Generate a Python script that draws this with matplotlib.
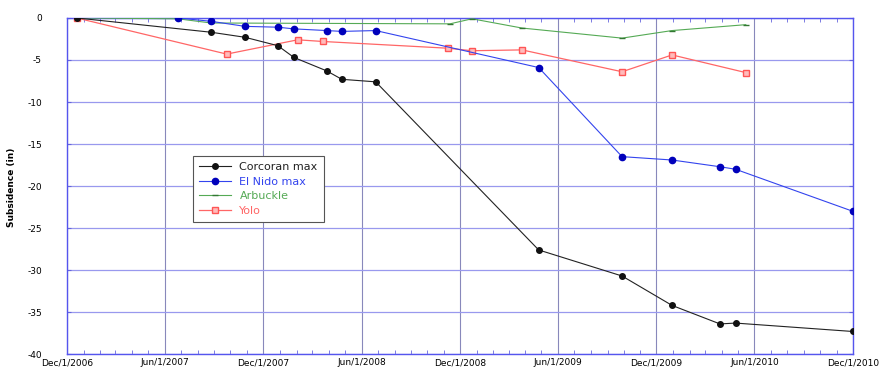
import numpy as np
import matplotlib
matplotlib.use("Agg")
import matplotlib.pyplot as plt
import matplotlib.dates as mdates

# survey dates and subsidence (inches)
corcoran_dates = ["2006-12-19", "2007-08-26", "2007-10-28", "2007-12-28", "2008-01-27",
                  "2008-03-28", "2008-04-25", "2008-06-27", "2009-04-26", "2009-09-28",
                  "2009-12-30", "2010-03-29", "2010-04-27", "2010-12-01"]
corcoran_max = [0, -1.7, -2.3, -3.3, -4.7, -6.3, -7.3, -7.6, -27.6, -30.7,
                -34.2, -36.4, -36.3, -37.3]

elnido_dates = ["2007-06-25", "2007-08-26", "2007-10-28", "2007-12-28", "2008-01-27",
                "2008-03-28", "2008-04-25", "2008-06-27", "2009-04-26", "2009-09-28",
                "2009-12-30", "2010-03-29", "2010-04-27", "2010-12-01"]
elnido_max = [0, -0.4, -1.0, -1.1, -1.3, -1.5, -1.6, -1.5, -5.9, -16.5,
              -16.9, -17.7, -18.0, -23.0]

arbuckle_dates = ["2006-12-19", "2007-06-25", "2007-08-26", "2008-11-12", "2008-12-23",
                  "2009-03-26", "2009-09-28", "2009-12-30", "2010-05-16"]
arbuckle = [0, -0.1, -0.6, -0.7, -0.1, -1.2, -2.4, -1.5, -0.8]

yolo_dates = ["2006-12-19", "2007-09-24", "2008-02-03", "2008-03-21", "2008-11-08",
              "2008-12-23", "2009-03-26", "2009-09-28", "2009-12-30", "2010-05-16"]
yolo = [0, -4.3, -2.6, -2.8, -3.6, -3.9, -3.8, -6.4, -4.4, -6.5]

tick_dates = ["2006-12-01", "2007-06-01", "2007-12-01", "2008-06-01", "2008-12-01",
              "2009-06-01", "2009-12-01", "2010-06-01", "2010-12-01"]
tick_labels = ["Dec/1/2006", "Jun/1/2007", "Dec/1/2007", "Jun/1/2008", "Dec/1/2008",
               "Jun/1/2009", "Dec/1/2009", "Jun/1/2010", "Dec/1/2010"]


def d(lst):
    return np.array(lst, dtype="datetime64[D]")


fig = plt.figure(figsize=(8.81, 3.74), dpi=100)
ax = fig.add_axes([0.076, 0.053, 0.892, 0.899])

ax.plot(d(corcoran_dates), corcoran_max, color="#222222", lw=0.8, marker="o",
        ms=4, mfc="#111111", mec="#111111", label="Corcoran max", zorder=5)
ax.plot(d(elnido_dates), elnido_max, color="#3344ee", lw=0.8, marker="o",
        ms=4.5, mfc="#0000bb", mec="#0000bb", label="El Nido max", zorder=4)
ax.plot(d(arbuckle_dates), arbuckle, color="#55aa55", lw=0.8, marker="_",
        ms=5, mec="#337733", label="Arbuckle", zorder=3)
ax.plot(d(yolo_dates), yolo, color="#ff6666", lw=0.9, marker="s",
        ms=4.5, mfc="#ffbbbb", mec="#ff5555", label="Yolo", zorder=3)

ax.set_xlim(d(["2006-12-01"])[0], d(["2010-12-01"])[0])
ax.set_ylim(-40, 0)
ax.set_xticks(d(tick_dates))
ax.set_xticklabels(tick_labels, fontsize=6.5)
ax.xaxis.set_minor_locator(mdates.MonthLocator())
ax.set_yticks(np.arange(-40, 1, 5))
ax.set_yticklabels([str(v) for v in range(-40, 1, 5)], fontsize=6.5)

# y label placed on the figure so it stays inside the left edge
fig.text(0.013, 0.5, "Subsidence (in)", rotation=90, fontsize=6.5,
         fontweight="bold", ha="center", va="center")

ax.tick_params(axis="both", which="both", direction="in", color="#6666dd",
               top=True, right=True)
ax.tick_params(axis="x", which="major", length=0, pad=3)
ax.tick_params(axis="x", which="minor", length=3)
ax.tick_params(axis="y", length=3, pad=18)

ax.yaxis.grid(True, color="#9999ee", lw=0.9)
ax.xaxis.grid(True, which="major", color="#8888bb", lw=0.8)
for s in ax.spines.values():
    s.set_color("#5555ee")
    s.set_linewidth(1.0)

leg = ax.legend(loc="upper left", bbox_to_anchor=(0.153, 0.607), fontsize=8,
                fancybox=False, edgecolor="#555555", framealpha=1,
                labelcolor="linecolor", handlelength=2.8, borderpad=0.6,
                labelspacing=0.4)
leg.get_frame().set_linewidth(0.8)

fig.savefig("out.png", dpi=100)
